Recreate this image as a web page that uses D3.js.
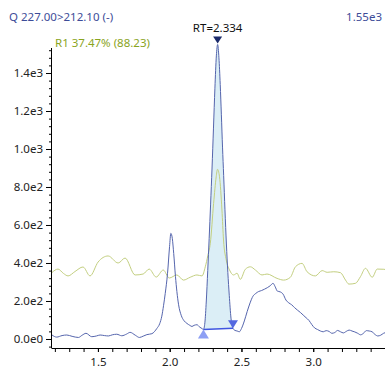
<!DOCTYPE html>
<html><head><meta charset="utf-8">
<script src="https://cdn.jsdelivr.net/npm/d3@7"></script>
<style>
html,body{margin:0;padding:0;background:#fff;}
svg{display:block;font-family:"Noto Sans","Open Sans",sans-serif;}
</style></head>
<body><svg id="c" width="385" height="369"></svg>
<script>
// ---- data ----
const titleText = "Q 227.00>212.10 (-)";
const maxText = "1.55e3";
const rtText = "RT=2.334";
const ratioText = "R1 37.47% (88.23)";

const xTickLabels = ["1.5", "2.0", "2.5", "3.0"];
const xTickValues = [1.5, 2.0, 2.5, 3.0];
const yTickLabels = ["0.0e0", "2.0e2", "4.0e2", "6.0e2", "8.0e2", "1.0e3", "1.2e3", "1.4e3"];
const yTickValues = [0, 200, 400, 600, 800, 1000, 1200, 1400];

// quantifier trace (time, intensity)
const quantTime = [1.18,1.213,1.25,1.283,1.32,1.364,1.39,1.417,1.457,1.49,1.515,1.545,1.573,1.60,1.631,1.666,1.70,1.724,1.76,1.789,1.815,1.841,1.876,1.911,1.93,1.945,1.957,1.969,1.985,1.999,2.008,2.018,2.028,2.04,2.05,2.062,2.08,2.10,2.12,2.14,2.155,2.17,2.19,2.21,2.225,2.235,
  2.245,2.255,2.265,2.275,2.285,2.295,2.305,2.315,2.325,2.334,2.343,2.352,2.36,2.368,2.376,2.385,2.395,2.405,2.415,2.427,2.441,
  2.455,2.47,2.485,2.50,2.52,2.54,2.56,2.58,2.60,2.62,2.64,2.66,2.68,2.70,2.72,2.735,2.75,2.77,2.79,2.81,2.83,2.85,2.87,2.89,2.91,2.93,2.95,2.97,2.99,3.01,3.03,3.05,3.07,3.09,3.11,3.13,3.15,3.17,3.19,3.21,3.23,3.25,3.27,3.29,3.31,3.33,3.35,3.37,3.39,3.41,3.43,3.45,3.47,3.49,3.50];
const quantValue = [21,10,18,21,14,8,20,30,12,16,21,18,16,22,25,17,26,35,20,8,15,23,28,56,80,120,175,240,346,486,556,530,450,330,250,180,125,96,82,72,66,72,75,62,55,50,
  85,200,360,530,710,900,1110,1320,1490,1550,1480,1340,1180,1010,860,680,500,350,230,110,56,
  45,42,38,55,95,145,190,225,240,250,255,262,270,280,293,275,252,248,236,205,190,180,165,152,140,126,112,98,76,58,50,42,38,44,40,30,34,45,38,32,40,47,42,37,30,22,30,44,42,38,24,16,20,30,33];

// qualifier trace (time, intensity)
const qualTime = [1.18,1.222,1.26,1.292,1.34,1.396,1.445,1.501,1.571,1.641,1.689,1.759,1.815,1.857,1.906,1.955,1.997,2.05,2.096,2.143,2.19,2.225,2.248,2.266,2.283,2.306,2.324,2.333,2.347,2.364,2.375,2.394,2.417,2.445,2.469,2.492,2.527,2.562,2.597,2.643,2.678,2.748,2.794,2.841,2.876,2.922,2.957,3.015,3.062,3.097,3.143,3.19,3.225,3.248,3.294,3.329,3.364,3.411,3.446,3.492,3.50];
const qualValue = [350,368,345,332,355,379,332,405,437,400,426,337,342,368,326,363,321,337,310,325,337,332,380,440,504,714,854,893,854,679,521,416,363,337,346,314,367,380,363,337,342,319,310,325,380,398,354,332,360,351,354,349,310,289,293,328,372,325,368,367,366];

// integration window (start, end) and peak apex
const peakStart = [2.235, 50];
const peakEnd = [2.441, 56];
const peakApex = [2.334, 1550];

// ---- drawing ----
const svg = d3.select("#c");
const x = d3.scaleLinear().domain([1.18, 3.50]).range([52, 385]);
const y = d3.scaleLinear().domain([-47.4, 1531.6]).range([348, 48]);

const quant = quantTime.map((t, i) => [t, quantValue[i]]);
const qual = qualTime.map((t, i) => [t, qualValue[i]]);

// integrated area
const inWin = quant.filter(d => d[0] >= peakStart[0] && d[0] <= peakEnd[0]);
const baseAt = t => peakStart[1] + (peakEnd[1] - peakStart[1]) * (t - peakStart[0]) / (peakEnd[0] - peakStart[0]);
svg.append("path")
  .datum(inWin)
  .attr("fill", "#dbeef6")
  .attr("stroke", "none")
  .attr("d", d3.area().x(d => x(d[0])).y0(d => y(baseAt(d[0]))).y1(d => y(d[1])).curve(d3.curveMonotoneX));

// qualifier line
svg.append("path").datum(qual)
  .attr("fill", "none").attr("stroke", "#c3cf80").attr("stroke-width", 1)
  .attr("d", d3.line().x(d => x(d[0])).y(d => y(d[1])).curve(d3.curveMonotoneX));

// quantifier line
svg.append("path").datum(quant)
  .attr("fill", "none").attr("stroke", "#5565ad").attr("stroke-width", 1)
  .attr("d", d3.line().x(d => x(d[0])).y(d => y(d[1])).curve(d3.curveMonotoneX));

// baseline of integration
svg.append("line")
  .attr("x1", x(peakStart[0])).attr("y1", y(peakStart[1]))
  .attr("x2", x(peakEnd[0])).attr("y2", y(peakEnd[1]))
  .attr("stroke", "#3f55e0").attr("stroke-width", 1.5);

// markers
const tri = (cx, tipY, dir, w, h, col) => {
  const p = dir === "down"
    ? [[cx - w/2, tipY - h], [cx + w/2, tipY - h], [cx, tipY]]
    : [[cx - w/2, tipY + h], [cx + w/2, tipY + h], [cx, tipY]];
  svg.append("path").attr("d", "M" + p.map(q => q.join(",")).join("L") + "Z").attr("fill", col);
};
tri(x(peakStart[0]), y(peakStart[1]), "up", 11, 9, "#8d9ff4");
tri(x(peakEnd[0]), y(peakEnd[1]), "down", 10, 8, "#5569e0");
tri(x(peakApex[0]), y(peakApex[1]) - 1, "down", 9, 7, "#1b2a6a");

// axes
const gx = svg.append("g").attr("transform", "translate(0,348)");
gx.call(d3.axisBottom(x).tickValues(d3.range(12, 36).map(v => v / 10)).tickSize(4).tickFormat(""));
gx.call(g => g.select(".domain").remove());
const gx2 = svg.append("g").attr("transform", "translate(0,348)");
gx2.call(d3.axisBottom(x).tickValues(xTickValues).tickSize(4).tickPadding(6).tickFormat((d, i) => xTickLabels[i]));
gx2.selectAll("text").attr("font-size", 11.5).attr("fill", "#222").style("font-family", "Noto Sans");
gx2.select(".domain").attr("d", "M52,0.5H385");

const gy = svg.append("g").attr("transform", "translate(52,0)");
gy.call(d3.axisLeft(y).tickValues(d3.range(-40, 1530, 40)).tickSize(3).tickFormat(""));
gy.call(g => g.select(".domain").remove());
const gy2 = svg.append("g").attr("transform", "translate(52,0)");
gy2.call(d3.axisLeft(y).tickValues(yTickValues).tickSize(6).tickPadding(3).tickFormat((d, i) => yTickLabels[i]));
gy2.selectAll("text").attr("font-size", 11.5).attr("fill", "#222").style("font-family", "Noto Sans");
gy2.select(".domain").attr("d", "M-0.5,48V348.5");

// texts
svg.append("text").attr("x", 9).attr("y", 21).attr("font-size", 11.5).attr("fill", "#3d4c98").text(titleText);
svg.append("text").attr("x", 382).attr("y", 21).attr("text-anchor", "end").attr("font-size", 11.5).attr("fill", "#3d4c98").text(maxText);
svg.append("text").attr("x", x(peakApex[0])).attr("y", 32).attr("text-anchor", "middle").attr("font-size", 11.5).attr("fill", "#111").text(rtText);
svg.append("text").attr("x", 55).attr("y", 47).attr("font-size", 11.5).attr("fill", "#8aa41e").text(ratioText);
</script></body></html>
